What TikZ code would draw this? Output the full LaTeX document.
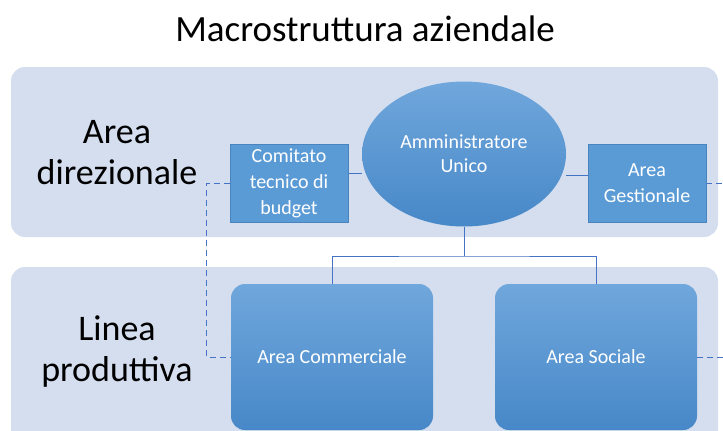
\documentclass[tikz,border=0pt]{standalone}
\usepackage{fontspec}
\setmainfont{Carlito}
\usetikzlibrary{positioning,shapes.geometric,backgrounds}
\definecolor{bandfill}{HTML}{D4DEEF}
\definecolor{boxfill}{HTML}{5B9BD5}
\definecolor{boxline}{HTML}{4A84BE}
\definecolor{shadetop}{HTML}{70A7DC}
\definecolor{shadebot}{HTML}{4788C8}
\definecolor{linkcol}{HTML}{4472C4}

\begin{document}
\begin{tikzpicture}[x=1pt,y=-1pt,
    band/.style={fill=bandfill,rounded corners=14pt},
    region/.style={align=center,font=\fontsize{36}{41}\selectfont},
    unit/.style={draw=boxline,fill=boxfill,text=white,align=center,inner sep=0pt,
      minimum width=118pt,minimum height=78pt,font=\fontsize{20}{26}\selectfont},
    head/.style={ellipse,top color=shadetop,bottom color=shadebot,text=white,align=center,
      minimum width=204pt,minimum height=145pt,inner sep=0pt,font=\fontsize{20}{24}\selectfont},
    line/.style={rounded corners=14pt,top color=shadetop,bottom color=shadebot,text=white,
      minimum width=202pt,minimum height=146pt,inner sep=0pt,font=\fontsize{20}{24}\selectfont},
    link/.style={draw=linkcol,line width=1pt},
    staff/.style={link,dash pattern=on 6pt off 4pt}]
  \clip (0,0) rectangle (723,431);

  \node (title) at (365,29) {\fontsize{37}{42}\selectfont Macrostruttura aziendale};

  \node[region] (direz) at (117,153) {Area\\direzionale};
  \node[region] (prod) at (117,352) {Linea\\produttiva};

  \node[head] (admin) at (464,154) {Amministratore\\Unico};
  \node[unit] (comitato) at (289,183) {Comitato\\tecnico di\\budget};
  \node[unit] (gestionale) at (647,183) {Area\\Gestionale};
  \node[line] (commerciale) at (332,357) {Area Commerciale};
  \node[line] (sociale) at (596,357) {Area Sociale};

  \coordinate (split) at (admin.south |- 0,256);
  \coordinate (outG) at (723,183);
  \coordinate (outS) at (723,357);

  \begin{pgfonlayer}{background}
    \fill[band] (11,67) rectangle (718,237);
    \fill[band] (11,267) rectangle (718,470);
    \draw[link] ([yshift=10pt]comitato.east) -- ([yshift=10pt]comitato.east -| admin.west);
    \draw[link] ([yshift=8pt]gestionale.west) -- ([yshift=8pt]gestionale.west -| admin.east);
    \draw[link] (admin.south) -- (split);
    \draw[link] (commerciale.north) |- (split) -| (sociale.north);
    \draw[staff] (comitato.west) -- ++(-23,0) |- (commerciale.west);
    \draw[staff] (gestionale.east) -- (outG);
    \draw[staff] (sociale.east) -- (outS);
  \end{pgfonlayer}
\end{tikzpicture}
\end{document}
